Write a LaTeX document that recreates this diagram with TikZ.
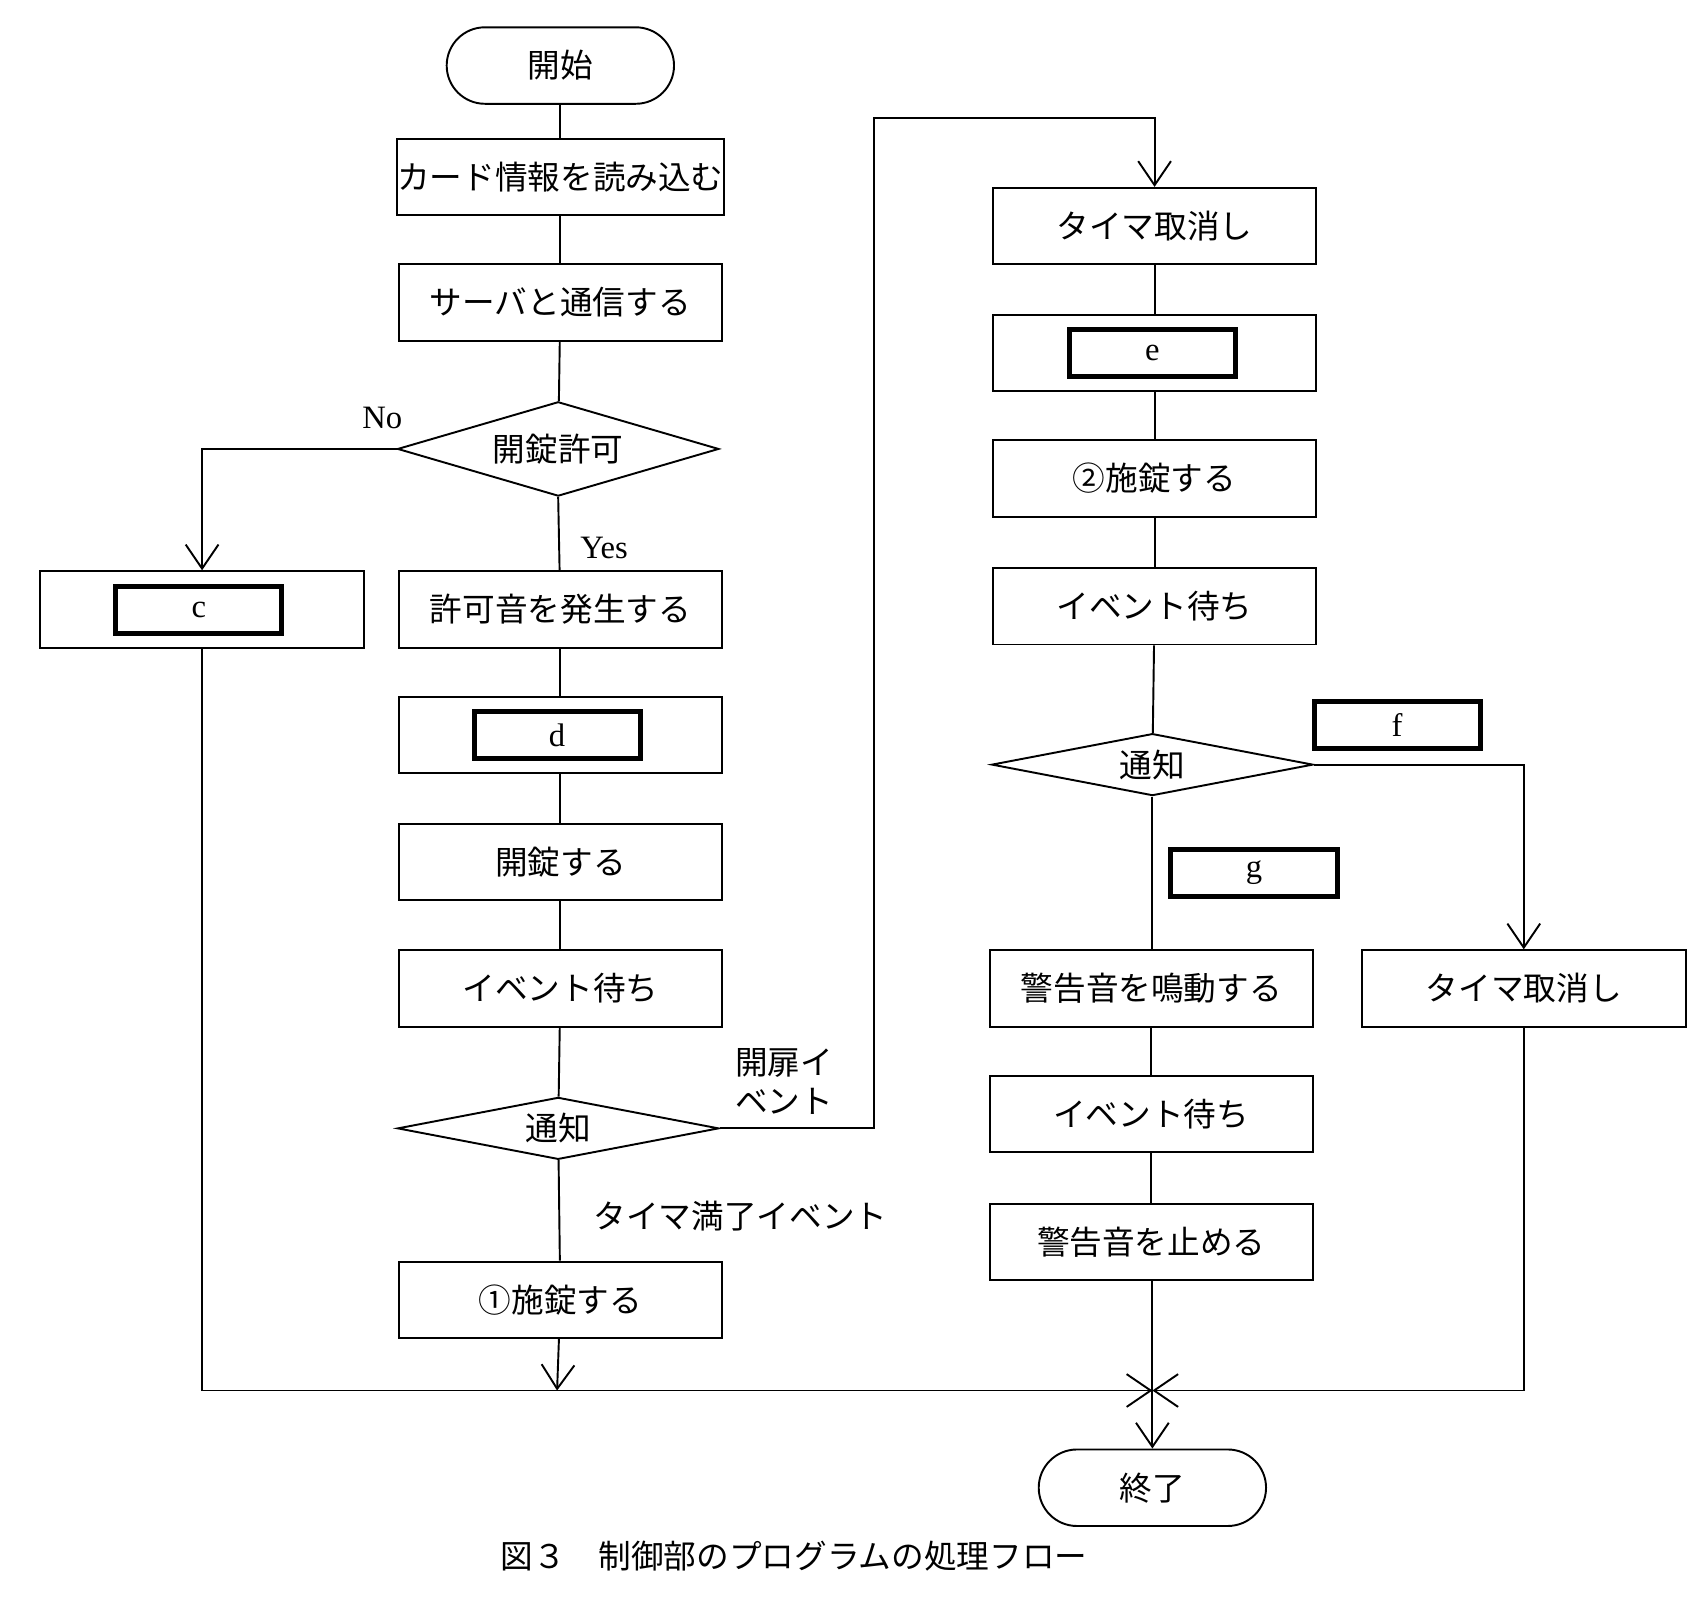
\documentclass[tikz,border=0pt]{standalone}
\usepackage{fontspec}
\setmainfont{Liberation Serif}
\newfontfamily\jp{Noto Sans CJK JP}
\usetikzlibrary{shapes.geometric,arrows.meta}
\tikzset{
  proc/.style={draw, minimum width=2.96cm, minimum height=0.70cm, inner sep=0pt},
  term/.style={draw, rounded corners=0.35cm, minimum width=2.08cm, minimum height=0.70cm},
  dec/.style={draw, diamond, aspect=2.04, minimum width=2.94cm, inner sep=0pt},
  blank/.style={draw, line width=1.3pt, minimum width=1.52cm, minimum height=0.43cm, inner sep=0pt},
  lbl/.style={inner sep=0pt},
  flow/.style={-{Straight Barb[length=2.2mm,width=3mm]}},
}
\begin{document}
\begin{tikzpicture}[x=0.01cm, y=-0.01cm, font=\jp\fontsize{8.5}{10}\selectfont, line width=0.5pt]
\useasboundingbox (0,0) rectangle (1560,1463);

% left column
\node[term] (start) at (513,60) {開始};
\node[proc] (read) at (513,162) {カード情報を読み込む};
\node[proc] (comm) at (513,277) {サーバと通信する};
\node[dec] (perm) at (511,411) {開錠許可};
\node[proc] (beep) at (513,558) {許可音を発生する};
\node[proc] (d) at (513,673) {};
\node[blank] (dd) at (510,673) {\rmfamily d};
\node[proc] (unlock) at (513,789) {開錠する};
\node[proc] (wait1) at (513,905) {イベント待ち};
\node[dec] (note1) at (511,1033) {通知};
\node[proc] (lock1) at (513,1190) {①施錠する};

\node[proc] (c) at (185,558) {};
\node[blank] (cc) at (182,558) {\rmfamily c};

% right column
\node[proc] (cancel1) at (1057,207) {タイマ取消し};
\node[proc] (e) at (1057,323) {};
\node[blank] (ee) at (1055,323) {\rmfamily e};
\node[proc] (lock2) at (1057,438) {②施錠する};
\node[proc] (wait2) at (1057,555) {イベント待ち};
\node[dec] (note2) at (1055,700) {通知};
\node[blank] (f) at (1279,664) {\rmfamily f};
\node[blank] (g) at (1148,799) {\rmfamily g};
\node[proc] (alarm) at (1054,905) {警告音を鳴動する};
\node[proc] (wait3) at (1054,1020) {イベント待ち};
\node[proc] (stop) at (1054,1137) {警告音を止める};
\node[proc] (cancel2) at (1395,905) {タイマ取消し};
\node[term] (end) at (1055,1362) {終了};

\coordinate (j1) at (510,1273);
\coordinate (j2) at (1055,1273);
\coordinate (cl) at (185,1273);
\coordinate (cr) at (1395,1273);

% connectors
\draw (start) -- (read);
\draw (read) -- (comm);
\draw (comm) -- (perm);
\draw (perm.south) -- (beep);
\draw[flow] (perm.west) -| (c.north);
\draw (beep) -- (d);
\draw (d) -- (unlock);
\draw (unlock) -- (wait1);
\draw (wait1) -- (note1);
\draw (note1) -- (lock1);
\draw[flow] (note1.east) -- (800,1033) -- (800,108) -| (cancel1.north);
\draw (cancel1) -- (e);
\draw (e) -- (lock2);
\draw (lock2) -- (wait2);
\draw (wait2) -- (note2);
\draw (note2.south) -- (alarm.north -| note2.south);
\draw[flow] (note2.east) -| (cancel2.north);
\draw (alarm) -- (wait3);
\draw (wait3) -- (stop);
\draw[flow] (lock1) -- (j1);
\draw (c) -- (cl) -- (j1);
\draw[flow] (j1) -- (j2);
\draw[flow] (cancel2) -- (cr) -- (j2);
\draw[flow] (stop.south -| j2) -- (end);

% labels
\node[lbl] (no) at (350,383) {\rmfamily No};
\node[lbl] (yes) at (553,502) {\rmfamily Yes};
\node[lbl, align=left] (open) at (718,990) {開扉イ\\ベント};
\node[lbl] (tmo) at (678,1113) {タイマ満了イベント};
\node[lbl] (cap) at (727,1425) {図３　制御部のプログラムの処理フロー};
\end{tikzpicture}
\end{document}
